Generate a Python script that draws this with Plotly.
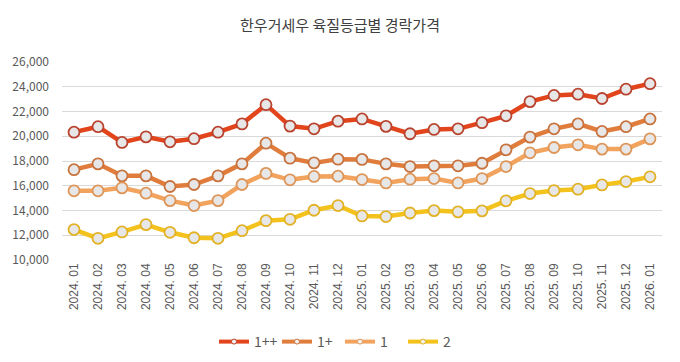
import plotly.graph_objects as go

months = ["2024. 01", "2024. 02", "2024. 03", "2024. 04", "2024. 05", "2024. 06",
          "2024. 07", "2024. 08", "2024. 09", "2024. 10", "2024. 11", "2024. 12",
          "2025. 01", "2025. 02", "2025. 03", "2025. 04", "2025. 05", "2025. 06",
          "2025. 07", "2025. 08", "2025. 09", "2025. 10", "2025. 11", "2025. 12",
          "2026. 01"]

grade_1pp = [20330, 20770, 19500, 19950, 19550, 19800, 20330, 21000, 22550, 20820, 20600, 21220,
             21400, 20800, 20200, 20550, 20600, 21100, 21650, 22800, 23300, 23400, 23050, 23800,
             24250]
grade_1p = [17300, 17770, 16800, 16800, 15940, 16100, 16800, 17770, 19440, 18230, 17850, 18150,
            18130, 17770, 17550, 17610, 17610, 17820, 18900, 19930, 20600, 21000, 20390, 20770,
            21400]
grade_1 = [15590, 15590, 15830, 15400, 14800, 14400, 14800, 16100, 17000, 16480, 16750, 16770,
           16500, 16230, 16530, 16580, 16230, 16580, 17550, 18660, 19090, 19310, 18960, 18960,
           19790]
grade_2 = [12460, 11750, 12270, 12860, 12240, 11800, 11750, 12370, 13180, 13290, 14020, 14400,
           13560, 13510, 13800, 13990, 13890, 13970, 14780, 15370, 15610, 15720, 16070, 16340,
           16720]

series_names = ["1++", "1+", "1", "2"]
series_values = [grade_1pp, grade_1p, grade_1, grade_2]
line_colors = ["#E2441B", "#E07D3C", "#F2A35E", "#F4C21C"]
edge_colors = ["#B9432E", "#C8733E", "#DE9558", "#E2B224"]

fig = go.Figure()
for name, vals, lc, ec in zip(series_names, series_values, line_colors, edge_colors):
    fig.add_trace(go.Scatter(
        x=months, y=vals, mode="lines+markers", name=name, showlegend=False,
        line=dict(color=lc, width=4.5),
        marker=dict(size=11, color="#E8E7E7", line=dict(color=ec, width=1.8)),
    ))
for name, lc, ec in zip(series_names, line_colors, edge_colors):
    fig.add_trace(go.Scatter(
        x=[None], y=[None], mode="lines+markers", name=name, showlegend=True,
        line=dict(color=lc, width=4),
        marker=dict(size=5, color="#F2F2F2", line=dict(color=ec, width=1)),
    ))

fig.update_layout(
    width=680, height=362,
    margin=dict(l=57, r=18, t=62, b=102),
    paper_bgcolor="white", plot_bgcolor="white",
    font=dict(family="Noto Sans CJK KR", color="#595959", size=12),
    title=dict(text="한우거세우 육질등급별 경락가격", x=0.5, xref="container", xanchor="center",
               y=1 - 26 / 362, yref="container", yanchor="middle",
               font=dict(size=15, color="#404040", family="Noto Sans CJK KR")),
    legend=dict(orientation="h", x=0.5, xref="container", xanchor="center",
                y=1 - 342 / 362, yref="container", yanchor="middle",
                font=dict(size=14, color="#595959"), itemwidth=30,
                entrywidth=18, entrywidthmode="pixels",
                tracegroupgap=0),
    xaxis=dict(type="category", range=[-0.5, 24.5], tickangle=-90, showgrid=False,
               showline=False, ticks="", tickfont=dict(size=12, color="#595959",
                                                       family="Liberation Sans")),
    yaxis=dict(range=[10000, 26000], dtick=2000, tickformat=",", showgrid=True,
               gridcolor="#D9D9D9", gridwidth=1, zeroline=False, showline=False,
               ticks="", ticklabelstandoff=12, tickfont=dict(size=12, color="#595959")),
)

fig.write_html("out.html", config={"displayModeBar": False},
               post_script="document.body.style.margin='0';")
